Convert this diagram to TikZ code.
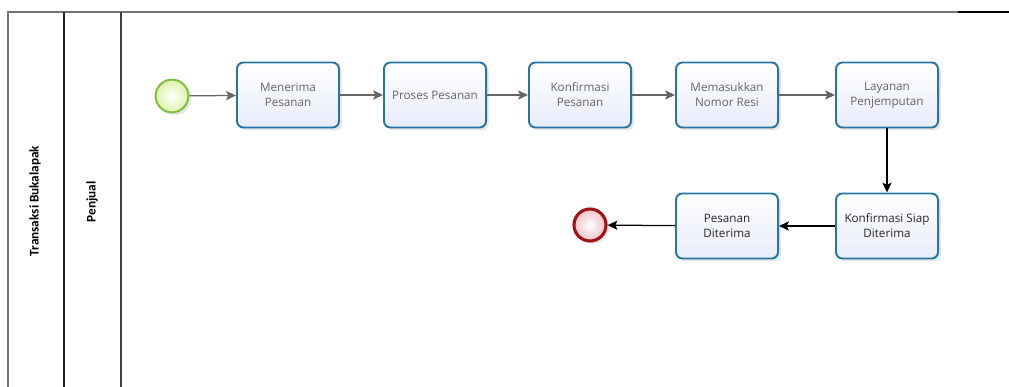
\documentclass[tikz,border=0pt]{standalone}
\usepackage{fontspec}
\setmainfont{Open Sans}
\newfontfamily\lanefont{Carlito}
\usetikzlibrary{arrows.meta,shadows}
\definecolor{boxline}{RGB}{40,118,160}
\definecolor{boxfill}{RGB}{232,236,250}
\definecolor{startline}{RGB}{125,190,60}
\definecolor{startfill}{RGB}{222,242,170}
\definecolor{endline}{RGB}{160,20,25}
\definecolor{endfill}{RGB}{240,195,198}
\begin{document}
\begin{tikzpicture}[x=0.025cm, y=-0.025cm, >={Stealth[length=7pt,width=6.5pt,inset=1.5pt]},
  every node/.style={font=\fontsize{8.3}{10.6}\selectfont},
  task/.style={draw=boxline, line width=1.4pt, rectangle, rounded corners=0.16cm, align=center,
    minimum width=2.55cm, minimum height=1.625cm, inner sep=1pt,
    top color=white, bottom color=boxfill,
    drop shadow={opacity=0.18, shadow xshift=2pt, shadow yshift=-2pt}},
  lane/.style={font=\lanefont\bfseries\fontsize{9.4}{11}\selectfont, rotate=90}]
  \useasboundingbox (0,0) rectangle (1009,387);
  % pool and lane
  \draw[black!55, line width=0.8pt] (8,387) -- (8,12) -- (958,12);
  \draw[black, line width=0.8pt] (958,12) -- (1009,12);
  \draw[black!85, line width=1.2pt] (64,12) -- (64,387);
  \draw[black!75, line width=0.8pt] (121,12) -- (121,387);
  \node[lane] (pool) at (35,201) {Transaksi Bukalapak};
  \node[lane] (penjual) at (92,202) {Penjual};
  % events
  \node[draw=startline, line width=1.4pt, circle, minimum size=0.82cm, inner color=white, outer color=startfill,
    drop shadow={opacity=0.18, shadow xshift=2pt, shadow yshift=-2pt}] (mulai) at (172,96) {};
  \node[draw=endline, line width=2.2pt, circle, minimum size=0.8cm, inner color=white, outer color=endfill,
    drop shadow={opacity=0.18, shadow xshift=2pt, shadow yshift=-2pt}] (selesai) at (590,225) {};
  % tasks
  \node[task, text=black!60] (terima) at (288,95) {Menerima\\Pesanan};
  \node[task, text=black!60] (proses) at (435,95) {Proses Pesanan};
  \node[task, text=black!60] (konfirm) at (580,95) {Konfirmasi\\Pesanan};
  \node[task, text=black!60] (resi) at (727,95) {Memasukkan\\Nomor Resi};
  \node[task, text=black!60] (jemput) at (887,95) {Layanan\\Penjemputan};
  \node[task, text=black!85] (siap) at (887,226) {Konfirmasi Siap\\Diterima};
  \node[task, text=black!85] (diterima) at (727,226) {Pesanan\\Diterima};
  % flows
  \draw[->, black!60, line width=0.9pt] (mulai) -- (terima);
  \draw[->, black!60, line width=0.9pt] (terima) -- (proses);
  \draw[->, black!60, line width=0.9pt] (proses) -- (konfirm);
  \draw[->, black!60, line width=0.9pt] (konfirm) -- (resi);
  \draw[->, black!60, line width=0.9pt] (resi) -- (jemput);
  \draw[->, black, line width=0.9pt] (jemput) -- (siap);
  \draw[->, black, line width=0.9pt] (siap) -- (diterima);
  \draw[->, black, line width=0.9pt] (diterima) -- (selesai);
\end{tikzpicture}
\end{document}
